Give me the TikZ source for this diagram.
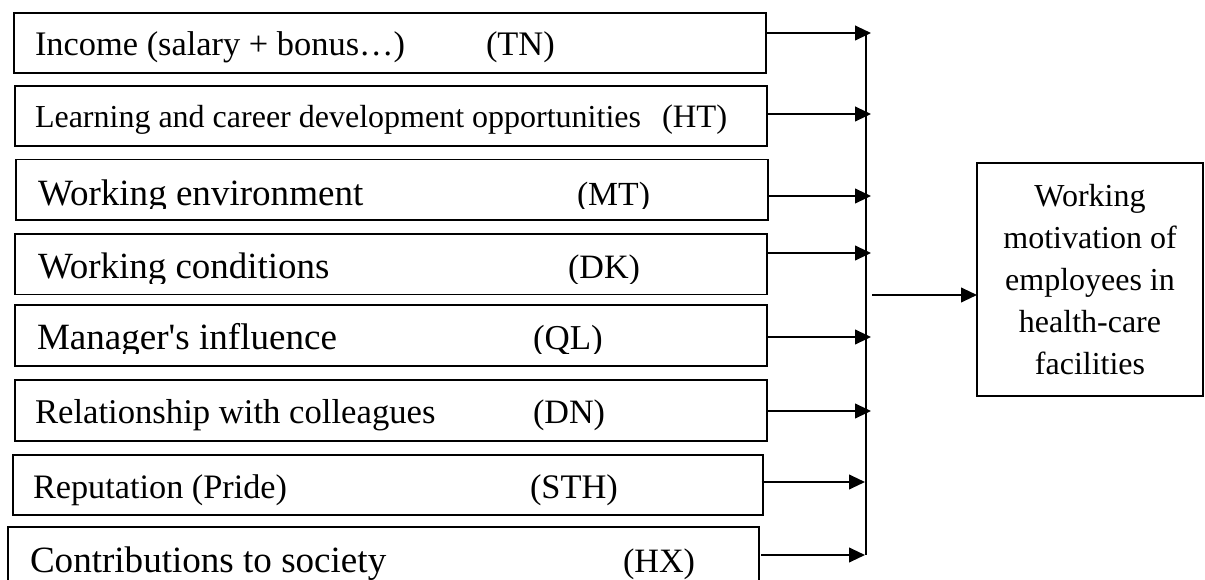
\documentclass[tikz,border=0pt]{standalone}
\usepackage{fontspec}
\setmainfont{Liberation Serif}
\usetikzlibrary{arrows.meta}
\newcommand{\fs}[1]{\fontsize{#1}{1.2\dimexpr#1\relax}\selectfont}
\begin{document}
\begin{tikzpicture}[x=0.75pt,y=-0.75pt,
  factor/.style={draw, line width=1.4pt, rectangle, inner sep=0pt, outer sep=0pt, anchor=north west},
  lbl/.style={anchor=base west, inner sep=0pt, outer sep=0pt},
  link/.style={line width=1.5pt, -{Triangle[length=12pt,width=11pt]}},
  wire/.style={line width=1.5pt}]
\useasboundingbox (0,0) rectangle (1205,580);
\clip (0,0) rectangle (1205,580);

% factor boxes
\node[factor, minimum width=564pt, minimum height=45pt] (b1) at (14,13) {};
\node[factor, minimum width=564pt, minimum height=45pt] (b2) at (15,86) {};
\node[factor, minimum width=564pt, minimum height=45.4pt] (b3) at (16,159.5) {};
\node[factor, minimum width=564pt, minimum height=45.4pt] (b4) at (15,234) {};
\node[factor, minimum width=564pt, minimum height=45.75pt] (b5) at (15,305) {};
\node[factor, minimum width=564pt, minimum height=45.75pt] (b6) at (15,380) {};
\node[factor, minimum width=562.5pt, minimum height=45pt] (b7) at (13,455) {};
\node[factor, minimum width=563.25pt, minimum height=52.5pt] (b8) at (8,527) {};

% factor labels and codes
\node[lbl, font=\fs{25.8pt}] (t1) at (35,56) {Income (salary + bonus…)};
\node[lbl, font=\fs{25.8pt}] (c1) at (486,56) {(TN)};
\node[lbl, font=\fs{24pt}] (t2) at (35,128) {Learning and career development opportunities};
\node[lbl, font=\fs{24.5pt}] (c2) at (662,128) {(HT)};
\begin{scope}
  \clip (16,159.5) rectangle (768,208.5);
  \node[lbl, font=\fs{27.8pt}] (t3) at (38,206) {Working environment};
  \node[lbl, font=\fs{25.3pt}] (c3) at (577,206) {(MT)};
\end{scope}
\begin{scope}
  \clip (15,234) rectangle (767,284);
  \node[lbl, font=\fs{27.7pt}] (t4) at (38,279) {Working conditions};
  \node[lbl, font=\fs{25.6pt}] (c4) at (568,279) {(DK)};
\end{scope}
\begin{scope}
  \clip (15,305) rectangle (767,354);
  \node[lbl, font=\fs{27.8pt}] (t5) at (37,350) {Manager\textquotesingle s influence};
  \node[lbl, font=\fs{26.2pt}] (c5) at (533,350) {(QL)};
\end{scope}
\node[lbl, font=\fs{26pt}] (t6) at (35,423) {Relationship with colleagues};
\node[lbl, font=\fs{25.6pt}] (c6) at (533,423) {(DN)};
\node[lbl, font=\fs{25.7pt}] (t7) at (33,498) {Reputation (Pride)};
\node[lbl, font=\fs{25.8pt}] (c7) at (530,498) {(STH)};
\node[lbl, font=\fs{27.8pt}] (t8) at (30,572) {Contributions to society};
\node[lbl, font=\fs{25.6pt}] (c8) at (623,572) {(HX)};

% outcome box
\node[factor, minimum width=169.5pt, minimum height=174.75pt, align=center,
      font=\fontsize{24pt}{31.5pt}\selectfont] (goal) at (977,163)
  {Working\\motivation of\\employees in\\health-care\\facilities};

% arrow ends on the collecting bus
\coordinate (e1) at (871,33);
\coordinate (e2) at (871,114);
\coordinate (e3) at (871,196);
\coordinate (e4) at (871,253);
\coordinate (e5) at (871,337);
\coordinate (e6) at (871,411);
\coordinate (e7) at (865,482);
\coordinate (e8) at (865,555);
\coordinate (bustop) at (866,33);
\coordinate (busend) at (866,555);
\coordinate (hub) at (872,295);

\draw[link] (b1.east |- e1) -- (e1);
\draw[link] (b2.east |- e2) -- (e2);
\draw[link] (b3.east |- e3) -- (e3);
\draw[link] (b4.east |- e4) -- (e4);
\draw[link] (b5.east |- e5) -- (e5);
\draw[link] (b6.east |- e6) -- (e6);
\draw[link] ([xshift=-1pt]b7.east |- e7) -- (e7);
\draw[link] ([xshift=1.5pt]b8.east |- e8) -- (e8);
\draw[wire] (bustop) -- (busend);
\draw[link] (hub) -- (goal.west |- hub);
\end{tikzpicture}
\end{document}
